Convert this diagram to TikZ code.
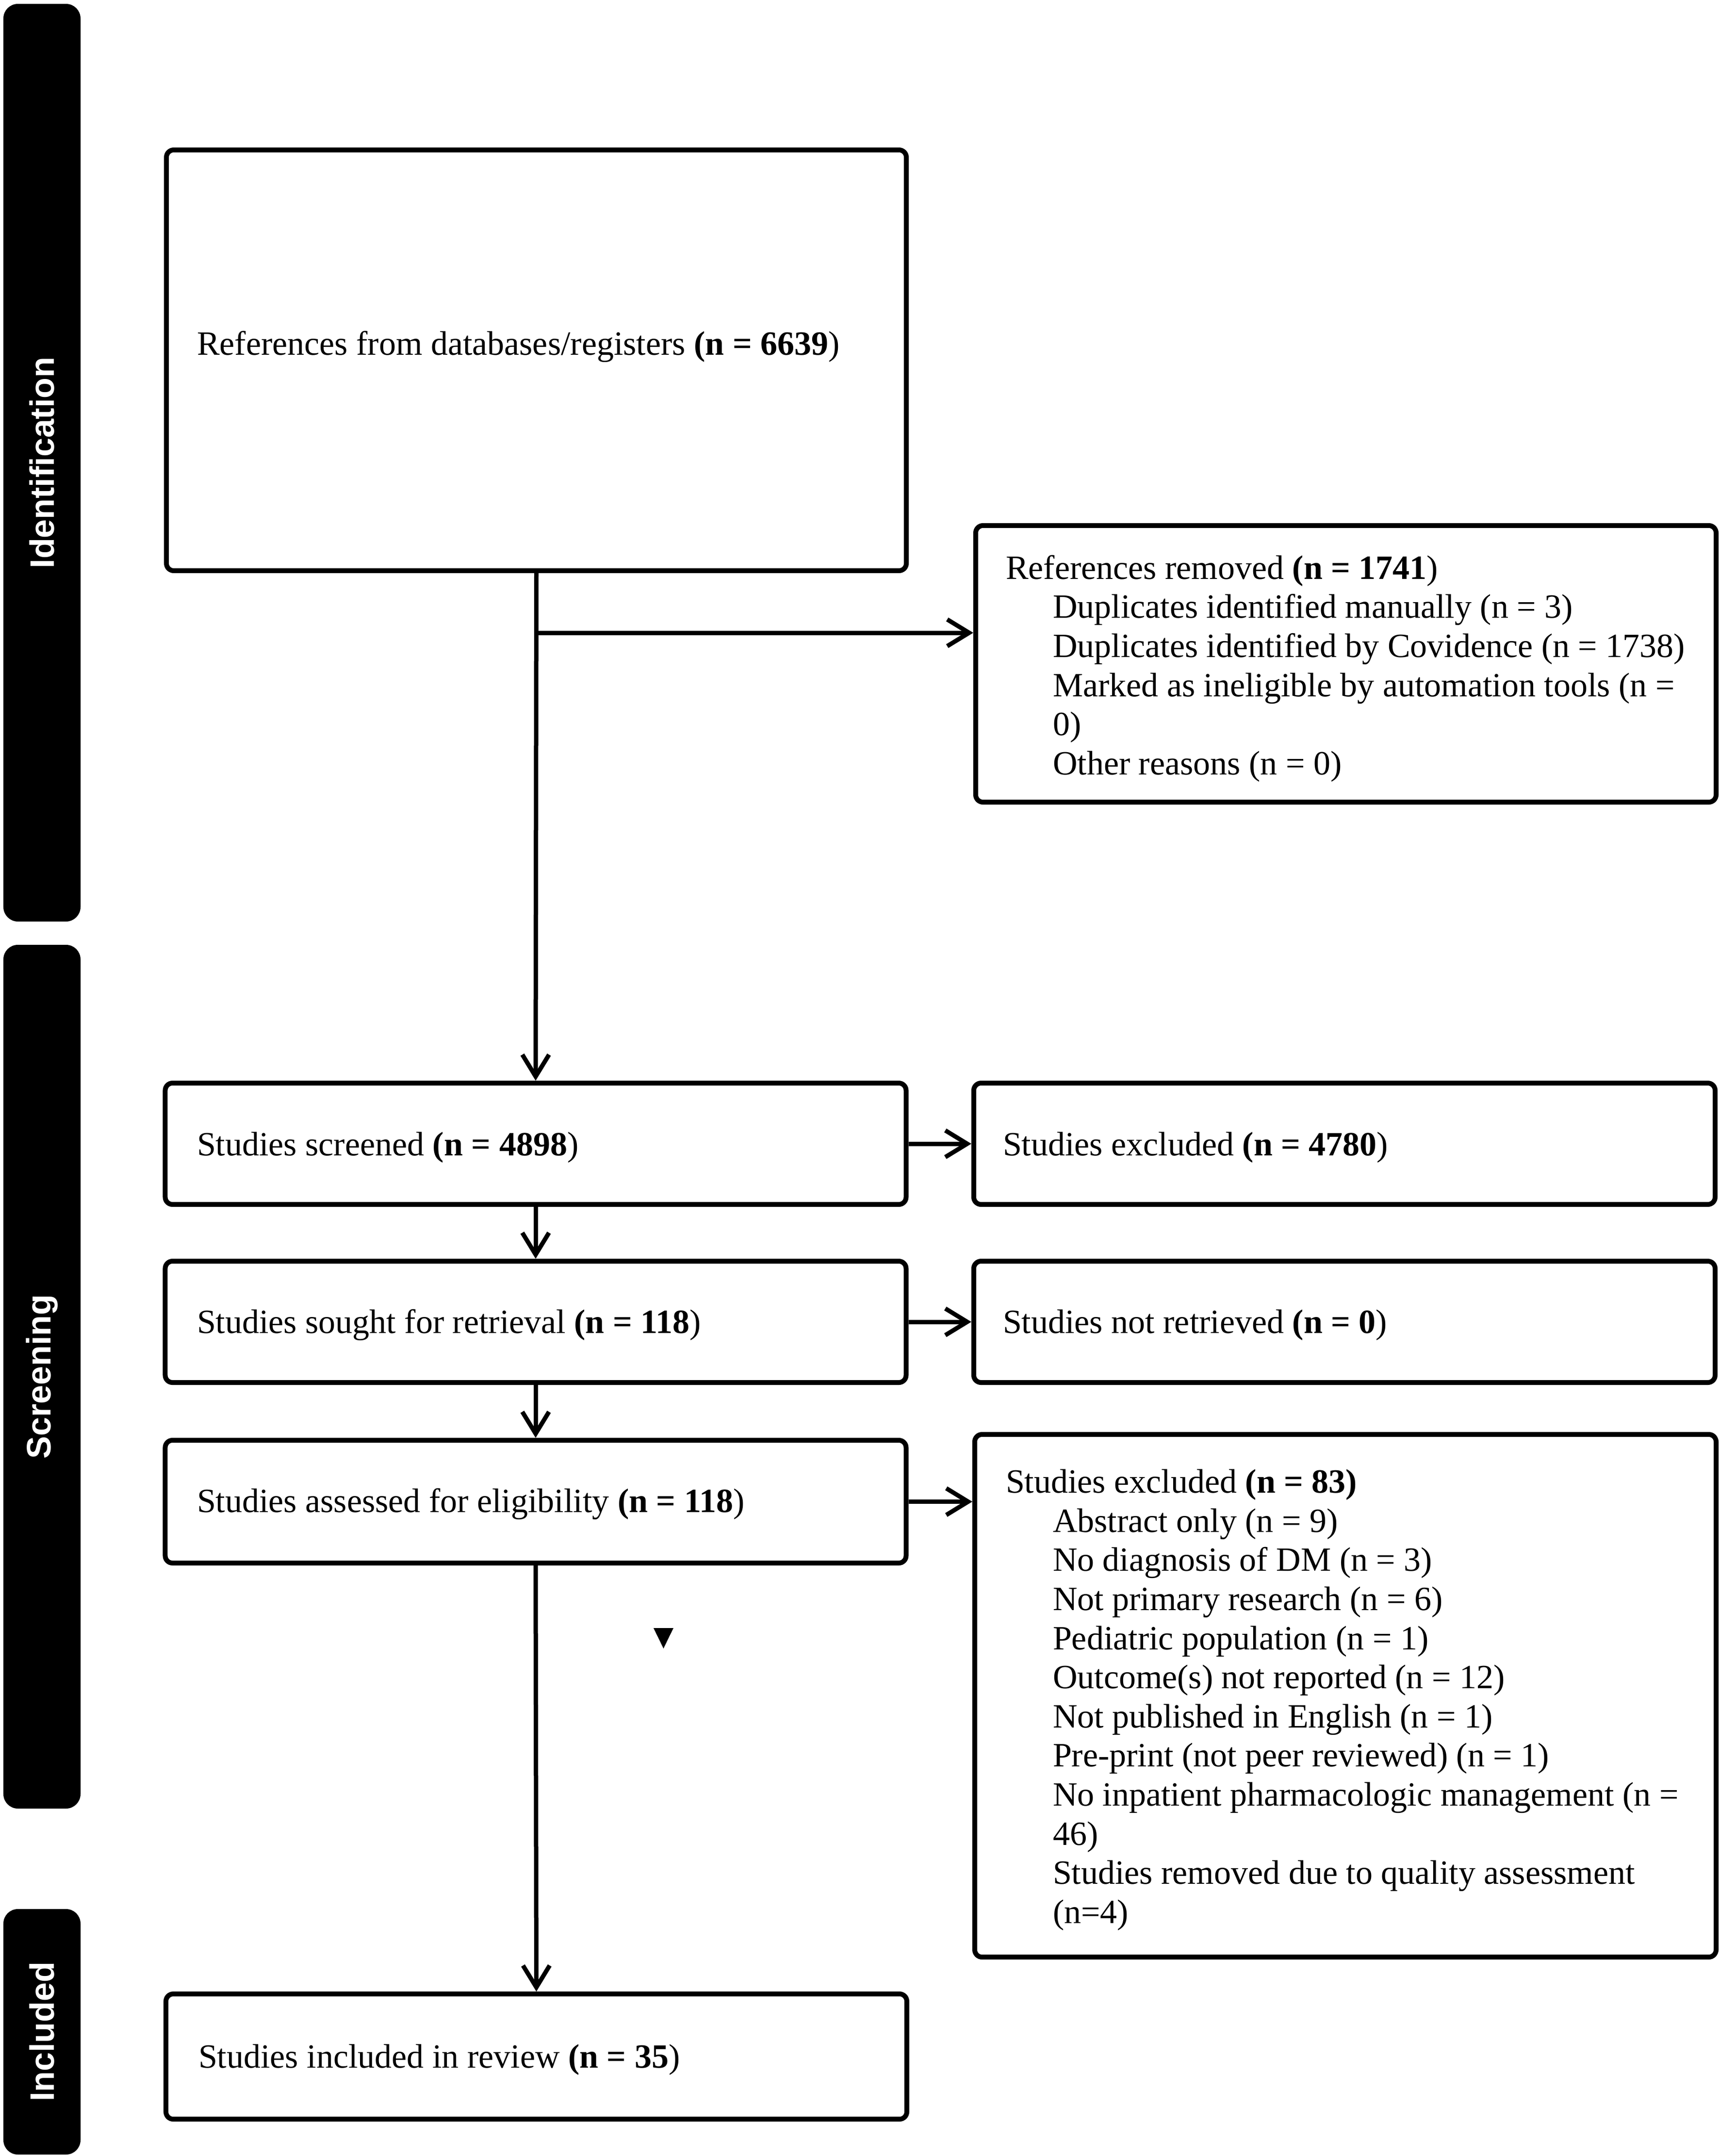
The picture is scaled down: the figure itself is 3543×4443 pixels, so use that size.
\documentclass[tikz,border=0pt]{standalone}
\usepackage{fontspec}
\setmainfont{Liberation Serif}
\newfontfamily\barfont{Liberation Sans}
\usetikzlibrary{arrows.meta}
\begin{document}
\begin{tikzpicture}[x=0.2pt,y=-0.2pt,
  box/.style={draw=black, line width=2pt, rounded corners=3pt, inner sep=0pt, fill=white},
  txt/.style={inner sep=0pt, font=\fontsize{14}{16.12}\selectfont, align=left},
  bar/.style={fill=black, rounded corners=6pt, inner sep=0pt, text=white, font=\barfont\bfseries\fontsize{14}{16}\selectfont, rotate=90},
  arr/.style={line width=1.8pt, -{Straight Barb[length=9pt,width=11pt]}},
  ln/.style={line width=1.8pt}]
\useasboundingbox[fill=white] (0,0) rectangle (3543,4443);
% side bars
\node[bar, minimum width=378.2pt, minimum height=31.8pt] (bid) at (86.5,953.5) {Identification};
\node[bar, minimum width=356pt, minimum height=31.8pt] (bsc) at (86.5,2837) {Screening};
\node[bar, minimum width=101.2pt, minimum height=31.8pt] (bin) at (86.5,4187) {Included};
% boxes
\node[box, minimum width=305pt, minimum height=173.4pt] (refs) at (1105.5,742.5) {};
\node[box, minimum width=305.2pt, minimum height=114pt] (removed) at (2774,1368) {};
\node[box, minimum width=305.4pt, minimum height=50pt] (screened) at (1104,2357) {};
\node[box, minimum width=305.6pt, minimum height=50pt] (excla) at (2771,2357) {};
\node[box, minimum width=305.4pt, minimum height=50pt] (sought) at (1104,2724) {};
\node[box, minimum width=305.6pt, minimum height=50pt] (notret) at (2771,2724) {};
\node[box, minimum width=305.4pt, minimum height=50.6pt] (assessed) at (1104,3094.5) {};
\node[box, minimum width=305.6pt, minimum height=215.4pt] (exclb) at (2773,3494.5) {};
\node[box, minimum width=305.4pt, minimum height=51.6pt] (included) at (1105.5,4238) {};
% texts
\node[txt, anchor=base west] (trefs) at (405,731) {References from databases/registers \textbf{(n = 6639})};
\node[txt, anchor=north west] (tremoved) at (2072,1143) {References removed \textbf{(n = 1741})\\
\hspace*{19.4pt}Duplicates identified manually (n = 3)\\
\hspace*{19.4pt}Duplicates identified by Covidence (n = 1738)\\
\hspace*{19.4pt}Marked as ineligible by automation tools (n =\\
\hspace*{19.4pt}0)\\
\hspace*{19.4pt}Other reasons (n = 0)};
\node[txt, anchor=base west] (tscreened) at (405,2381) {Studies screened \textbf{(n = 4898})};
\node[txt, anchor=base west] (texcla) at (2066,2381) {Studies excluded \textbf{(n = 4780})};
\node[txt, anchor=base west] (tsought) at (405,2747) {Studies sought for retrieval \textbf{(n = 118})};
\node[txt, anchor=base west] (tnotret) at (2066,2747) {Studies not retrieved \textbf{(n = 0})};
\node[txt, anchor=base west] (tassessed) at (405,3116) {Studies assessed for eligibility \textbf{(n = 118})};
\node[txt, anchor=north west] (texclb) at (2072,3027) {Studies excluded \textbf{(n = 83)}\\
\hspace*{19.4pt}Abstract only (n = 9)\\
\hspace*{19.4pt}No diagnosis of DM (n = 3)\\
\hspace*{19.4pt}Not primary research (n = 6)\\
\hspace*{19.4pt}Pediatric population (n = 1)\\
\hspace*{19.4pt}Outcome(s) not reported (n = 12)\\
\hspace*{19.4pt}Not published in English (n = 1)\\
\hspace*{19.4pt}Pre-print (not peer reviewed) (n = 1)\\
\hspace*{19.4pt}No inpatient pharmacologic management (n =\\
\hspace*{19.4pt}46)\\
\hspace*{19.4pt}Studies removed due to quality assessment\\
\hspace*{19.4pt}(n=4)};
\node[txt, anchor=base west] (tincluded) at (408,4261) {Studies included in review \textbf{(n = 35})};
% connectors
\coordinate (split) at (1105.5,1304);
\draw[arr] (refs.south) -- (screened.north);
\draw[arr] (split) -- (split -| removed.west);
\draw[arr] (screened.east) -- (excla.west);
\draw[arr] (screened.south) -- (sought.north);
\draw[arr] (sought.east) -- (notret.west);
\draw[arr] (sought.south) -- (assessed.north);
\draw[arr] (assessed.east) -- (assessed.east -| exclb.west);
\draw[arr] (assessed.south) -- (included.north);
% small triangle mark
\fill (1347,3355) -- (1388,3355) -- (1367.5,3397) -- cycle;
\end{tikzpicture}
\end{document}
